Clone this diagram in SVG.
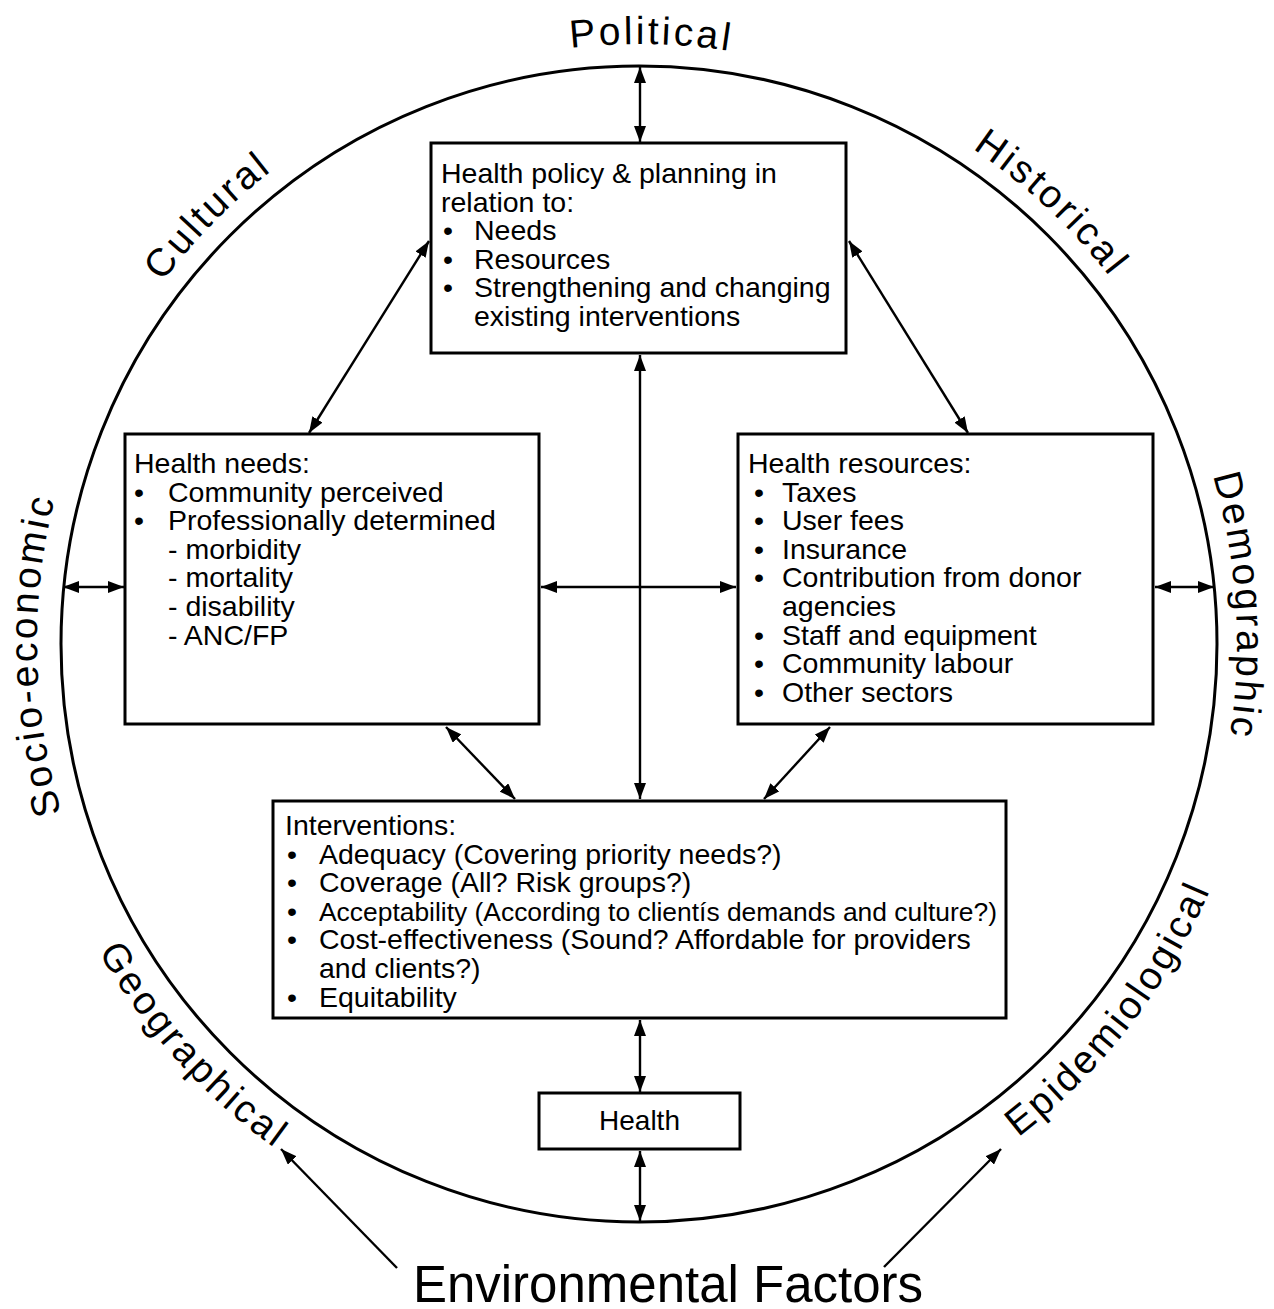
<svg xmlns="http://www.w3.org/2000/svg" width="1274" height="1309" viewBox="0 0 1274 1309">
<style>
.box{fill:#fff;stroke:#000;stroke-width:3}
.t{font-family:"Liberation Sans",Arial,Helvetica,sans-serif;font-size:28.5px;fill:#000}
.lbl{font-family:"Liberation Sans",Arial,Helvetica,sans-serif;font-size:39px;letter-spacing:3px;fill:#000}
.ring{fill:none;stroke:#000;stroke-width:3}
.conn line{stroke:#000;stroke-width:2.4;fill:none}
.bi{marker-start:url(#ah);marker-end:url(#ah)}
.uni{marker-end:url(#ah)}
</style>
<defs>
<marker id="ah" viewBox="0 0 16 12" markerWidth="16" markerHeight="12" refX="16" refY="6" orient="auto-start-reverse" markerUnits="userSpaceOnUse"><path d="M0,0 L16,6 L0,12 z" fill="#000"/></marker>
<path id="pPol" d="M349.5,118.5 A600,600 0 0 1 949.4,130.5"/>
<path id="pCul" d="M60.8,491.8 A600,600 0 0 1 481.7,65.0"/>
<path id="pHis" d="M774.1,62.5 A597,597 0 0 1 1210.2,470.4"/>
<path id="pDem" d="M1136.4,311.9 A598,598 0 0 1 1174.6,909.8"/>
<path id="pSoc" d="M123.8,955.0 A602,602 0 0 1 111.9,352.7"/>
<path id="pGeo" d="M30.6,773.4 A622,622 0 0 0 446.8,1235.6"/>
<path id="pEpi" d="M874.3,1220.0 A622,622 0 0 0 1255.0,728.4"/>
</defs>
<rect width="1274" height="1309" fill="#fff"/>

<g id="context">
<circle class="ring" cx="639" cy="644" r="578"/>
<text class="lbl"><textPath href="#pPol" startOffset="50%" text-anchor="middle">Political</textPath></text>
<text class="lbl"><textPath href="#pCul" startOffset="50%" text-anchor="middle">Cultural</textPath></text>
<text class="lbl"><textPath href="#pHis" startOffset="50%" text-anchor="middle">Historical</textPath></text>
<text class="lbl"><textPath href="#pDem" startOffset="50%" text-anchor="middle">Demographic</textPath></text>
<text class="lbl"><textPath href="#pSoc" startOffset="50%" text-anchor="middle">Socio-economic</textPath></text>
<text class="lbl"><textPath href="#pGeo" startOffset="50%" text-anchor="middle">Geographical</textPath></text>
<text class="lbl"><textPath href="#pEpi" startOffset="50%" text-anchor="middle">Epidemiological</textPath></text>
<text class="t" x="668" y="1302" text-anchor="middle" style="font-size:51px">Environmental Factors</text>
</g>

<g class="conn" id="connectors">
<line class="bi" x1="640" y1="67" x2="640" y2="142"/>
<line class="bi" x1="429" y1="241" x2="309" y2="433"/>
<line class="bi" x1="849" y1="241" x2="968" y2="433"/>
<line class="bi" x1="640" y1="355" x2="640" y2="799"/>
<line class="bi" x1="541" y1="587" x2="736" y2="587"/>
<line class="bi" x1="63" y1="587" x2="124" y2="587"/>
<line class="bi" x1="1155" y1="587" x2="1214" y2="587"/>
<line class="bi" x1="446" y1="727" x2="515" y2="799"/>
<line class="bi" x1="830" y1="727" x2="764" y2="799"/>
<line class="bi" x1="640" y1="1020" x2="640" y2="1092"/>
<line class="bi" x1="640" y1="1151" x2="640" y2="1221"/>
<line class="uni" x1="397" y1="1268" x2="281" y2="1149"/>
<line class="uni" x1="884" y1="1267" x2="1001" y2="1149"/>
</g>

<g id="policy">
<rect class="box" x="431" y="143" width="415" height="210"/>
<text class="t" x="441" y="183">Health policy &amp; planning in</text>
<text class="t" x="441" y="211.6">relation to:</text>
<text class="t" y="240.2"><tspan x="443">•</tspan><tspan x="474">Needs</tspan></text>
<text class="t" y="268.8"><tspan x="443">•</tspan><tspan x="474">Resources</tspan></text>
<text class="t" y="297.4"><tspan x="443">•</tspan><tspan x="474">Strengthening and changing</tspan></text>
<text class="t" x="474" y="326">existing interventions</text>
</g>

<g id="needs">
<rect class="box" x="125" y="434" width="414" height="290"/>
<text class="t" x="134" y="473">Health needs:</text>
<text class="t" y="501.6"><tspan x="134">•</tspan><tspan x="168">Community perceived</tspan></text>
<text class="t" y="530.2"><tspan x="134">•</tspan><tspan x="168">Professionally determined</tspan></text>
<text class="t" x="168" y="558.8">- morbidity</text>
<text class="t" x="168" y="587.4">- mortality</text>
<text class="t" x="168" y="616">- disability</text>
<text class="t" x="168" y="644.6">- ANC/FP</text>
</g>

<g id="resources">
<rect class="box" x="738" y="434" width="415" height="290"/>
<text class="t" x="748" y="473">Health resources:</text>
<text class="t" y="501.6"><tspan x="754">•</tspan><tspan x="782">Taxes</tspan></text>
<text class="t" y="530.2"><tspan x="754">•</tspan><tspan x="782">User fees</tspan></text>
<text class="t" y="558.8"><tspan x="754">•</tspan><tspan x="782">Insurance</tspan></text>
<text class="t" y="587.4"><tspan x="754">•</tspan><tspan x="782">Contribution from donor</tspan></text>
<text class="t" x="782" y="616">agencies</text>
<text class="t" y="644.6"><tspan x="754">•</tspan><tspan x="782">Staff and equipment</tspan></text>
<text class="t" y="673.2"><tspan x="754">•</tspan><tspan x="782">Community labour</tspan></text>
<text class="t" y="701.8"><tspan x="754">•</tspan><tspan x="782">Other sectors</tspan></text>
</g>

<g id="interventions">
<rect class="box" x="273" y="801" width="733" height="217"/>
<text class="t" x="285" y="835">Interventions:</text>
<text class="t" y="863.6"><tspan x="287">•</tspan><tspan x="319">Adequacy (Covering priority needs?)</tspan></text>
<text class="t" y="892.2"><tspan x="287">•</tspan><tspan x="319">Coverage (All? Risk groups?)</tspan></text>
<text class="t" y="920.8"><tspan x="287">•</tspan><tspan x="319" style="font-size:25.5px" textLength="678" lengthAdjust="spacingAndGlyphs">Acceptability (According to clientís demands and culture?)</tspan></text>
<text class="t" y="949.4"><tspan x="287">•</tspan><tspan x="319">Cost-effectiveness (Sound? Affordable for providers</tspan></text>
<text class="t" x="319" y="978">and clients?)</text>
<text class="t" y="1006.6"><tspan x="287">•</tspan><tspan x="319">Equitability</tspan></text>
</g>

<g id="health">
<rect class="box" x="539" y="1093" width="201" height="56"/>
<text class="t" x="639.5" y="1130" text-anchor="middle" style="font-size:28px">Health</text>
</g>
</svg>
